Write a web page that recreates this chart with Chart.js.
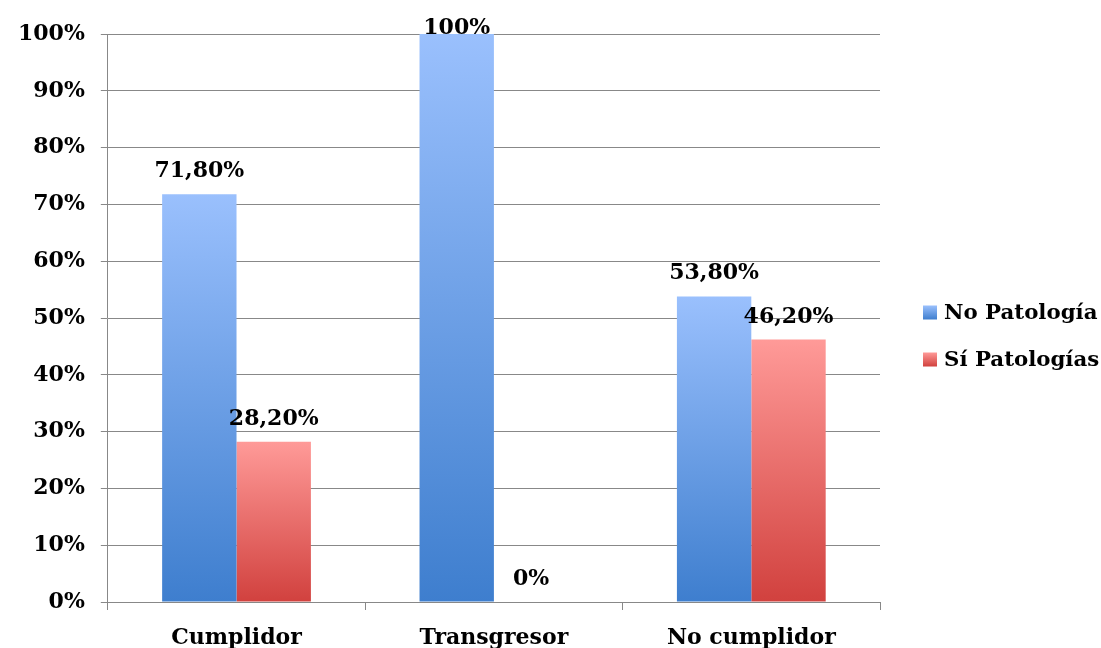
<!DOCTYPE html>
<html lang="es">
<head>
<meta charset="utf-8">
<title>Patologías según cumplimiento</title>
<script src="https://cdn.jsdelivr.net/npm/chart.js@4/dist/chart.umd.min.js"></script>
<style>
  html, body { margin: 0; padding: 0; background: #ffffff; }
  #wrap { width: 1101px; height: 648px; position: relative; }
</style>
</head>
<body>
<div id="wrap"><canvas id="chart"></canvas></div>
<script>
// Categories and series (percentages)
const categories = ['Cumplidor', 'Transgresor', 'No cumplidor'];
const seriesNames = ['No Patología', 'Sí Patologías'];
const noPatologia = [71.8, 100, 53.8];
const siPatologias = [28.2, 0, 46.2];
const yTicks = [0, 10, 20, 30, 40, 50, 60, 70, 80, 90, 100];

const FONT = { family: '"DejaVu Serif", serif', size: 22, weight: 'bold' };
const LEGEND_SIZE = 21.3;
const BLUE = ['#9AC0FD', '#3E7ECE'];
const RED = ['#FF9A98', '#D1413E'];

function pct(v) {
  return Number.isInteger(v) ? v + '%' : v.toFixed(2).replace('.', ',') + '%';
}

// Vertical gradient running from the top of each bar down to the baseline
function barGradient(stops) {
  return function (ctx) {
    const chart = ctx.chart;
    if (!chart.chartArea || ctx.type !== 'data') return stops[1];
    const y = chart.scales.y;
    const top = y.getPixelForValue(ctx.raw);
    const bottom = y.getPixelForValue(0);
    if (Math.abs(bottom - top) < 1) return stops[1];
    const g = chart.ctx.createLinearGradient(0, top, 0, bottom);
    g.addColorStop(0, stops[0]);
    g.addColorStop(1, stops[1]);
    return g;
  };
}

// Value labels above each bar, kept inside the plot's top edge
const valueLabels = {
  id: 'valueLabels',
  afterDatasetsDraw(chart) {
    const ctx = chart.ctx;
    ctx.save();
    ctx.font = `${FONT.weight} ${FONT.size}px ${FONT.family}`;
    ctx.fillStyle = '#000000';
    ctx.textAlign = 'center';
    ctx.textBaseline = 'alphabetic';
    chart.data.datasets.forEach((ds, di) => {
      chart.getDatasetMeta(di).data.forEach((el, i) => {
        const baseline = Math.max(el.y - 17, chart.chartArea.top);
        ctx.fillText(pct(ds.data[i]), el.x, baseline);
      });
    });
    ctx.restore();
  }
};

// Legend at the right, boxes filled with the series gradients
const sideLegend = {
  id: 'sideLegend',
  afterDraw(chart) {
    const ctx = chart.ctx;
    const area = chart.chartArea;
    const box = 14;
    const rowGap = 47;
    const x = area.right + 43;
    const centerY = 336;
    const n = chart.data.datasets.length;
    ctx.save();
    ctx.font = `${FONT.weight} ${LEGEND_SIZE}px ${FONT.family}`;
    ctx.textBaseline = 'middle';
    ctx.textAlign = 'left';
    chart.data.datasets.forEach((ds, i) => {
      const cy = centerY + (i - (n - 1) / 2) * rowGap;
      const g = ctx.createLinearGradient(0, cy - box / 2, 0, cy + box / 2);
      g.addColorStop(0, ds.legendStops[0]);
      g.addColorStop(1, ds.legendStops[1]);
      ctx.fillStyle = g;
      ctx.fillRect(x, cy - box / 2, box, box);
      ctx.fillStyle = '#000000';
      ctx.fillText(ds.label, x + box + 7, cy + 1);
    });
    ctx.restore();
  }
};

new Chart(document.getElementById('chart'), {
  type: 'bar',
  data: {
    labels: categories,
    datasets: [
      {
        label: seriesNames[0],
        data: noPatologia,
        backgroundColor: barGradient(BLUE),
        legendStops: BLUE,
        borderWidth: 0
      },
      {
        label: seriesNames[1],
        data: siPatologias,
        backgroundColor: barGradient(RED),
        legendStops: RED,
        borderWidth: 0
      }
    ]
  },
  options: {
    responsive: true,
    maintainAspectRatio: false,
    animation: false,
    datasets: { bar: { categoryPercentage: 0.578, barPercentage: 1.0 } },
    layout: { padding: { top: 34, left: 2, right: 221, bottom: -18 } },
    plugins: {
      legend: { display: false },
      tooltip: { enabled: false }
    },
    scales: {
      x: {
        grid: {
          offset: true,
          drawOnChartArea: false,
          drawTicks: true,
          tickLength: 8,
          color: '#888888',
          lineWidth: 1
        },
        border: { display: true, color: '#888888', width: 1 },
        ticks: { color: '#000000', font: { ...FONT, lineHeight: 1.0 }, padding: 17 }
      },
      y: {
        min: 0,
        max: 100,
        afterBuildTicks(scale) { scale.ticks = yTicks.map(v => ({ value: v })); },
        grid: { color: '#888888', lineWidth: 1, tickLength: 7 },
        border: { display: true, color: '#888888', width: 1 },
        ticks: {
          color: '#000000',
          font: FONT,
          padding: 16,
          callback: v => v + '%'
        }
      }
    }
  },
  plugins: [valueLabels, sideLegend]
});
</script>
</body>
</html>
